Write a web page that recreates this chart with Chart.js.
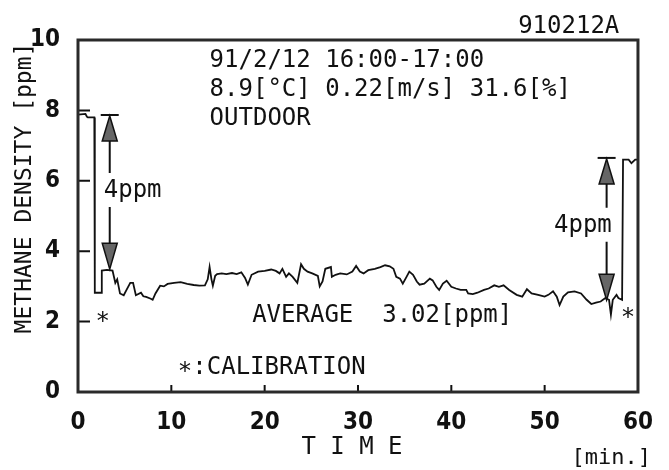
<!DOCTYPE html>
<html lang="en">
<head>
<meta charset="UTF-8">
<title>Methane density 910212A</title>
<script src="https://cdn.jsdelivr.net/npm/chart.js"></script>
<style>
  body { margin: 0; background: #fff; }
  canvas { display: block; }
</style>
</head>
<body>
<canvas id="myChart" width="669" height="470"></canvas>
<script>
// trace: time [min.] and methane density [ppm]
var timeMin = [0.0, 0.8, 0.95, 1.05, 1.75, 1.8, 2.5, 2.55, 3.1, 3.7, 4.0, 4.2, 4.5, 4.9, 5.2, 5.6, 5.9, 6.2, 6.75, 7.0,
  7.3, 7.8, 8.0, 8.3, 8.8, 9.2, 9.6, 10.3, 11.0, 11.7, 12.4, 13.0, 13.6, 13.9, 14.1, 14.3, 14.45, 14.7, 14.9, 15.4,
  15.9, 16.5, 17.0, 17.5, 17.9, 18.2, 18.6, 19.3, 20.0, 20.7, 21.2, 21.6, 21.9, 22.3, 22.6, 23.0, 23.5, 23.9, 24.2, 24.6,
  25.1, 25.7, 25.9, 26.2, 26.5, 27.1, 27.2, 27.6, 28.1, 28.8, 29.4, 29.8, 30.2, 30.6, 31.1, 31.8, 32.4, 32.9, 33.4, 33.8,
  34.1, 34.5, 34.8, 35.2, 35.5, 35.9, 36.3, 36.6, 37.1, 37.7, 38.0, 38.4, 38.7, 39.1, 39.5, 40.0, 40.5, 41.0, 41.6, 41.8,
  42.3, 42.8, 43.5, 44.0, 44.6, 45.1, 45.6, 46.2, 47.0, 47.6, 48.1, 48.6, 49.3, 50.0, 50.4, 50.9, 51.3, 51.6, 52.0, 52.5,
  53.2, 53.9, 54.5, 55.0, 55.5, 56.0, 56.5, 56.9, 57.1, 57.3, 57.7, 57.9, 58.3, 58.4, 59.0, 59.3, 59.7, 60.0];
var methane = [7.88, 7.9, 7.82, 7.8, 7.8, 2.82, 2.82, 3.45, 3.47, 3.45, 3.1, 3.2, 2.8, 2.75, 2.9, 3.1, 3.1, 2.75, 2.82, 2.72,
  2.7, 2.65, 2.62, 2.8, 3.02, 3.0, 3.07, 3.1, 3.12, 3.07, 3.04, 3.02, 3.03, 3.2, 3.55, 3.2, 3.02, 3.3, 3.35, 3.37,
  3.35, 3.38, 3.35, 3.4, 3.24, 3.05, 3.33, 3.42, 3.44, 3.48, 3.44, 3.37, 3.5, 3.27, 3.37, 3.27, 3.1, 3.63, 3.5, 3.42,
  3.37, 3.3, 3.0, 3.14, 3.5, 3.55, 3.27, 3.33, 3.37, 3.34, 3.42, 3.58, 3.42, 3.37, 3.46, 3.5, 3.55, 3.6, 3.57, 3.5,
  3.27, 3.22, 3.08, 3.27, 3.42, 3.33, 3.14, 3.05, 3.08, 3.22, 3.17, 2.99, 2.9, 3.08, 3.16, 2.99, 2.94, 2.9, 2.9, 2.8,
  2.78, 2.82, 2.9, 2.94, 3.03, 2.99, 3.03, 2.9, 2.76, 2.71, 2.92, 2.8, 2.76, 2.71, 2.76, 2.86, 2.71, 2.47, 2.71, 2.83,
  2.86, 2.8, 2.62, 2.5, 2.54, 2.57, 2.67, 2.62, 2.2, 2.62, 2.76, 2.67, 2.62, 6.6, 6.6, 6.5, 6.6, 6.6];

var xTicks = [0, 10, 20, 30, 40, 50, 60];
var yTicks = [0, 2, 4, 6, 8, 10];

// 4ppm calibration arrows: x [min.], cap value, tip value, label x, label baseline
var arrowX = [3.4, 56.64];
var arrowTop = [7.87, 6.65];
var arrowBottom = [3.49, 2.61];
var arrowLabelX = [2.76, 51.0];
var arrowLabelY = [5.54, 4.55];

var infoLines = ['91/2/12 16:00-17:00', '8.9[\u00B0C] 0.22[m/s] 31.6[%]', 'OUTDOOR'];
var infoX = 14.1;
var infoY = [9.23, 8.41, 7.59];

var monoFont = '"DejaVu Sans Mono", monospace';
var tickFont = { family: '"Liberation Sans Narrow", "DejaVu Sans Condensed", sans-serif', size: 24, weight: 'bold' };
var ink = '#111';

function drawArrow(ctx, x, yCap, yTip, yLabel) {
    var head = 26, half = 7.5;
    ctx.strokeStyle = ink;
    ctx.lineWidth = 2;
    // cap
    ctx.beginPath();
    ctx.moveTo(x - 9, yCap); ctx.lineTo(x + 9, yCap);
    ctx.stroke();
    // shafts, broken around the label
    ctx.beginPath();
    ctx.moveTo(x, yCap + head); ctx.lineTo(x, yLabel - 24);
    ctx.moveTo(x, yLabel + 10); ctx.lineTo(x, yTip - head);
    ctx.stroke();
    // heads
    ctx.fillStyle = '#666';
    ctx.lineWidth = 1.5;
    ctx.beginPath();
    ctx.moveTo(x, yCap + 1); ctx.lineTo(x - half, yCap + head); ctx.lineTo(x + half, yCap + head); ctx.closePath();
    ctx.fill(); ctx.stroke();
    ctx.beginPath();
    ctx.moveTo(x, yTip); ctx.lineTo(x - half, yTip - head); ctx.lineTo(x + half, yTip - head); ctx.closePath();
    ctx.fill(); ctx.stroke();
}

var overlay = {
    id: 'overlay',
    afterDraw: function (chart) {
        var ctx = chart.ctx;
        var xs = chart.scales.x, ys = chart.scales.y;
        var a = chart.chartArea;
        ctx.save();

        // inward tick marks
        ctx.strokeStyle = ink;
        ctx.lineWidth = 2;
        ctx.beginPath();
        yTicks.slice(1, -1).forEach(function (v) {
            var py = ys.getPixelForValue(v);
            ctx.moveTo(a.left, py); ctx.lineTo(a.left + 12, py);
        });
        xTicks.slice(1, -1).forEach(function (v) {
            var px = xs.getPixelForValue(v);
            ctx.moveTo(px, a.bottom); ctx.lineTo(px, a.bottom - 7);
        });
        ctx.stroke();

        // frame
        ctx.strokeStyle = '#2a2a2a';
        ctx.lineWidth = 3;
        ctx.strokeRect(a.left, a.top, a.right - a.left, a.bottom - a.top);

        // arrows
        for (var i = 0; i < arrowX.length; i++) {
            drawArrow(ctx, xs.getPixelForValue(arrowX[i]), ys.getPixelForValue(arrowTop[i]),
                ys.getPixelForValue(arrowBottom[i]), ys.getPixelForValue(arrowLabelY[i]));
        }

        // texts
        ctx.fillStyle = ink;
        ctx.font = '24px ' + monoFont;
        ctx.textBaseline = 'alphabetic';
        ctx.textAlign = 'left';
        infoLines.forEach(function (t, i) {
            ctx.fillText(t, xs.getPixelForValue(infoX), ys.getPixelForValue(infoY[i]));
        });
        for (var j = 0; j < arrowX.length; j++) {
            ctx.fillText('4ppm', xs.getPixelForValue(arrowLabelX[j]), ys.getPixelForValue(arrowLabelY[j]));
        }
        ctx.fillText('AVERAGE  3.02[ppm]', xs.getPixelForValue(18.66), ys.getPixelForValue(2.0));
        ctx.fillText('\u2217:CALIBRATION', xs.getPixelForValue(10.7), ys.getPixelForValue(0.51));

        ctx.textAlign = 'center';
        ctx.fillText('\u2217', xs.getPixelForValue(2.65), ys.getPixelForValue(2.12) + 7);
        ctx.fillText('\u2217', xs.getPixelForValue(58.94), ys.getPixelForValue(2.24) + 7);

        ctx.textAlign = 'right';
        ctx.fillText('910212A', xs.getPixelForValue(58.0), ys.getPixelForValue(10.2));

        // axis titles
        ctx.textAlign = 'center';
        ctx.fillText('T I M E', 352, 454);
        ctx.font = '22px ' + monoFont;
        ctx.textAlign = 'right';
        ctx.fillText('[min.]', 651, 464);

        ctx.font = '23px ' + monoFont;
        ctx.translate(25, 188);
        ctx.rotate(-Math.PI / 2);
        ctx.textAlign = 'center';
        ctx.textBaseline = 'middle';
        ctx.fillText('METHANE DENSITY [ppm]', 0, 0);
        ctx.restore();
    }
};

var points = timeMin.map(function (t, i) { return { x: t, y: methane[i] }; });

var config = {
    type: 'line',
    data: {
        datasets: [{
            data: points,
            borderColor: ink,
            borderWidth: 1.8,
            pointRadius: 0,
            tension: 0,
            fill: false
        }]
    },
    options: {
        responsive: false,
        animation: false,
        devicePixelRatio: 1,
        layout: { padding: { left: 0, right: 25, top: 40, bottom: 0 } },
        plugins: { legend: { display: false }, tooltip: { enabled: false } },
        scales: {
            x: {
                type: 'linear', min: 0, max: 60,
                afterFit: function (s) { s.height = 78; },
                afterBuildTicks: function (s) { s.ticks = xTicks.map(function (v) { return { value: v }; }); },
                grid: { display: false, drawTicks: false },
                border: { display: false },
                ticks: { padding: 16, font: tickFont, color: ink, maxRotation: 0, autoSkip: false }
            },
            y: {
                min: 0, max: 10,
                afterFit: function (s) { s.width = 78; },
                afterBuildTicks: function (s) { s.ticks = yTicks.map(function (v) { return { value: v }; }); },
                grid: { display: false, drawTicks: false },
                border: { display: false },
                ticks: { padding: 18, font: tickFont, color: ink, autoSkip: false }
            }
        }
    },
    plugins: [overlay]
};

window.onload = function () {
    var ctx = document.getElementById('myChart').getContext('2d');
    window.myChart = new Chart(ctx, config);
};
</script>
</body>
</html>
